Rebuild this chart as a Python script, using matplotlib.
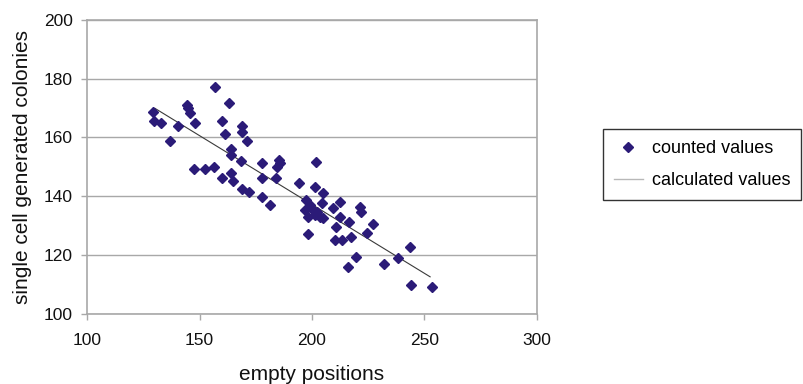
import matplotlib
matplotlib.use("Agg")
import matplotlib.pyplot as plt
from matplotlib.lines import Line2D

plt.rcParams['font.family'] = ['Liberation Sans', 'DejaVu Sans']

counted_x = [129.5, 129.9, 133.0, 136.9, 140.6, 144.3, 145.0, 145.8, 148.0, 147.6,
             152.4, 156.4, 156.9, 163.2, 160.0, 168.9, 168.9, 161.2, 171.0, 163.9,
             163.9, 168.3, 177.8, 185.2, 185.8, 184.6, 163.9, 160.0, 165.0, 177.8,
             184.0, 168.9, 172.1, 177.8, 181.3, 201.8, 194.4, 201.3, 205.0, 197.4,
             198.9, 196.9, 200.6, 202.1, 198.4, 201.3, 203.6, 205.0, 204.3, 212.4,
             209.2, 212.4, 221.3, 222.0, 216.6, 210.8, 198.4, 210.2, 213.2, 217.4,
             224.6, 227.0, 219.6, 216.1, 232.0, 238.4, 243.6, 243.9, 253.2]
counted_y = [168.8, 165.7, 164.8, 158.9, 163.9, 171.0, 169.9, 168.2, 165.0, 149.1,
             149.1, 150.0, 177.3, 171.8, 165.7, 164.0, 161.7, 161.2, 158.9, 155.9,
             154.0, 152.1, 151.4, 152.3, 151.2, 149.8, 148.0, 146.2, 145.2, 146.2,
             146.2, 142.3, 141.4, 139.6, 137.0, 151.7, 144.4, 143.2, 141.0, 138.7,
             137.0, 135.3, 135.3, 134.7, 133.0, 133.6, 133.0, 132.4, 137.5, 138.1,
             135.8, 133.0, 136.4, 134.7, 131.3, 129.4, 127.1, 125.0, 125.0, 126.2,
             127.3, 130.5, 119.1, 115.7, 116.8, 118.8, 122.8, 109.7, 108.9]

calc_x = [130.2, 252.5]
calc_y = [169.9, 112.5]

x_ticks = [100, 150, 200, 250, 300]
y_ticks = [100, 120, 140, 160, 180, 200]

fig = plt.figure(figsize=(8.04, 3.84), dpi=100)
ax = fig.add_axes([87/804, 1 - 313.5/384, 450/804, 293.5/384])

marker_color = '#2B1B78'
grid_color = '#A8A8A8'

ax.plot(calc_x, calc_y, color='#3a3a3a', linewidth=0.8, zorder=2)
ax.plot(counted_x, counted_y, linestyle='none', marker='D', markersize=5.5,
        color=marker_color, markeredgecolor=marker_color, zorder=3)

ax.set_xlim(100, 300)
ax.set_ylim(100, 200)
ax.set_xticks(x_ticks)
ax.set_yticks(y_ticks)
ax.set_xticklabels([str(v) for v in x_ticks], fontsize=12.5)
ax.set_yticklabels([str(v) for v in y_ticks], fontsize=12.5)
ax.yaxis.grid(True, color=grid_color, linewidth=1.0)
ax.set_axisbelow(True)
for s in ax.spines.values():
    s.set_color(grid_color)
    s.set_linewidth(1.2)
ax.tick_params(axis='x', direction='out', length=4, width=1, color=grid_color,
               pad=10, labelcolor='#111111')
ax.tick_params(axis='y', direction='out', length=4, width=1, color=grid_color,
               pad=6, labelcolor='#111111')

ax.set_xlabel('empty positions', fontsize=15, labelpad=12, color='#111111')
ax.set_ylabel('single cell generated colonies', fontsize=15, labelpad=9, color='#111111')

handles = [
    Line2D([], [], linestyle='none', marker='D', markersize=5.5, color=marker_color),
    Line2D([], [], color='#b8b8b8', linewidth=1.0),
]
leg = fig.legend(handles, ['counted values', 'calculated values'],
                 loc='upper left', bbox_to_anchor=(603/804, 1 - 129/384),
                 borderaxespad=0.0,
                 fontsize=13, frameon=True, fancybox=False, handlelength=1.6,
                 borderpad=0.6, labelspacing=0.85, handletextpad=0.5)
leg.get_frame().set_edgecolor('#000000')
leg.get_frame().set_linewidth(1.0)

fig.savefig('out.png', dpi=100)
